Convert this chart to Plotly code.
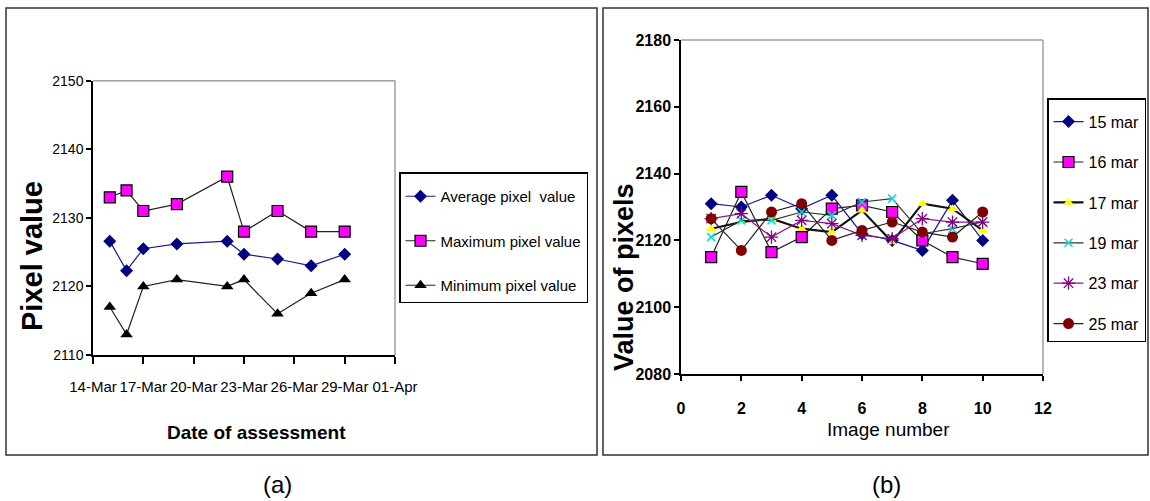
import plotly.graph_objects as go

# ---- Panel (a): pixel statistics per assessment date ----
assessment_dates = ["2013-03-15", "2013-03-16", "2013-03-17", "2013-03-19", "2013-03-22",
                    "2013-03-23", "2013-03-25", "2013-03-27", "2013-03-29"]
avg_pixel = [2126.6, 2122.3, 2125.5, 2126.2, 2126.6, 2124.7, 2124.0, 2123.0, 2124.7]
max_pixel = [2133, 2134, 2131, 2132, 2136, 2128, 2131, 2128, 2128]
min_pixel = [2117, 2113, 2120, 2121, 2120, 2121, 2116, 2119, 2121]

# ---- Panel (b): pixel values per image, one series per day ----
image_number = [1, 2, 3, 4, 5, 6, 7, 8, 9, 10]
mar15 = [2131, 2130, 2133.5, 2129.5, 2133.5, 2122, 2120, 2117, 2132, 2120]
mar16 = [2115, 2134.5, 2116.5, 2121, 2129.5, 2130.5, 2128.5, 2120, 2115, 2113]
mar17 = [2123.5, 2125.5, 2126.5, 2123.5, 2122.5, 2129, 2119.5, 2131, 2129.5, 2123]
mar19 = [2121, 2126, 2126, 2128.5, 2127.5, 2131.5, 2132.5, 2122, 2123.5, 2125.5]
mar23 = [2126.5, 2128, 2121, 2126, 2125, 2121.5, 2120.5, 2126.5, 2125.5, 2125.5]
mar25 = [2126.5, 2117, 2128.5, 2131, 2120, 2123, 2125.5, 2122.5, 2121, 2128.5]

W, H = 1150, 501
FONT = "Liberation Sans, Arial, sans-serif"


def px(x):
    return x / W


def py(y):
    return 1 - y / H


fig = go.Figure()

# panel (a) series
fig.add_trace(go.Scatter(
    x=assessment_dates, y=avg_pixel, name="Average pixel  value", legendgroup="a1",
    mode="lines+markers", line=dict(color="#1a1a8c", width=1.2),
    marker=dict(symbol="diamond", size=10, color="#000080"),
    xaxis="x", yaxis="y", legend="legend"))
fig.add_trace(go.Scatter(
    x=assessment_dates, y=max_pixel, name="Maximum pixel value", legendgroup="a2",
    mode="lines+markers", line=dict(color="#222222", width=1.2),
    marker=dict(symbol="square", size=11, color="#ff00ff", line=dict(color="black", width=1.2)),
    xaxis="x", yaxis="y", legend="legend"))
fig.add_trace(go.Scatter(
    x=assessment_dates, y=min_pixel, name="Minimum pixel value", legendgroup="a3",
    mode="lines+markers", line=dict(color="#222222", width=1.2),
    marker=dict(symbol="triangle-up", size=11, color="black"),
    xaxis="x", yaxis="y", legend="legend"))

# panel (b) series
series_b = [
    ("15 mar", mar15, dict(color="#1a1a8c", width=1.2),
     dict(symbol="diamond", size=10, color="#000080")),
    ("16 mar", mar16, dict(color="#222222", width=1.2),
     dict(symbol="square", size=11, color="#ff00ff", line=dict(color="black", width=1.2))),
    ("17 mar", mar17, dict(color="#111111", width=2.2),
     dict(symbol="triangle-up", size=9, color="#ffff00")),
    ("19 mar", mar19, dict(color="#333333", width=1.2),
     dict(symbol="x-thin-open", size=8, color="#00e0e0", line=dict(color="#00e0e0", width=1.6))),
    ("23 mar", mar23, dict(color="#8b1a8b", width=1.2),
     dict(symbol="asterisk-open", size=11, color="#800080", line=dict(color="#800080", width=1.3))),
    ("25 mar", mar25, dict(color="#222222", width=1.2),
     dict(symbol="circle", size=11, color="#800000")),
]
for i, (name, vals, ln, mk) in enumerate(series_b):
    fig.add_trace(go.Scatter(
        x=image_number, y=vals, name=name, legendgroup="b%d" % i,
        mode="lines+markers", line=ln, marker=mk,
        xaxis="x2", yaxis="y2", legend="legend2"))

axis_common = dict(showgrid=False, zeroline=False, showline=True, linecolor="black",
                   linewidth=1.5, ticks="outside", tickcolor="black", tickwidth=1.5,
                   automargin=False)

fig.update_layout(
    template="none",
    width=W, height=H, margin=dict(l=0, r=0, t=0, b=0, autoexpand=False),
    paper_bgcolor="white", plot_bgcolor="white",
    xaxis=dict(domain=[px(93), px(395)], anchor="y", type="date",
               range=["2013-03-14", "2013-04-01"], tick0="2013-03-14",
               dtick=3 * 86400000, tickformat="%d-%b", ticklen=7,
               ticklabelstandoff=10,
               tickfont=dict(family=FONT, size=15, color="black"), **axis_common),
    yaxis=dict(domain=[py(355), py(80.7)], anchor="x", range=[2110, 2150],
               dtick=10, ticklen=5,
               tickfont=dict(family=FONT, size=14, color="black"), **axis_common),
    xaxis2=dict(domain=[px(681), px(1043)], anchor="y2", range=[0, 12], dtick=2,
                ticklen=5, ticklabelstandoff=14,
                tickfont=dict(family=FONT, size=16, color="black", weight="bold"),
                **axis_common),
    yaxis2=dict(domain=[py(374), py(40)], anchor="x2", range=[2080, 2180], dtick=20,
                ticklen=5,
                tickfont=dict(family=FONT, size=16, color="black", weight="bold"),
                **axis_common),
    legend=dict(x=px(399), y=py(172), xanchor="left", yanchor="top",
                bgcolor="white", bordercolor="black", borderwidth=1.5,
                font=dict(family=FONT, size=15, color="black"),
                title=dict(text=" ", font=dict(size=5)),
                tracegroupgap=22, traceorder="grouped"),
    legend2=dict(x=px(1047), y=py(98), xanchor="left", yanchor="top",
                 bgcolor="white", bordercolor="black", borderwidth=1.5,
                 font=dict(family=FONT, size=16, color="black"),
                 title=dict(text=" ", font=dict(size=4)),
                 tracegroupgap=16.6, traceorder="grouped"),
    showlegend=True,
)

# panel frames and the light top/right edges of each plot area
shapes = [
    dict(type="rect", xref="paper", yref="paper", x0=px(6), x1=px(597), y0=py(455), y1=py(8),
         line=dict(color="#333333", width=1.5)),
    dict(type="rect", xref="paper", yref="paper", x0=px(603), x1=px(1148), y0=py(455), y1=py(8),
         line=dict(color="#333333", width=1.5)),
]
for xa, ya in (("x", "y"), ("x2", "y2")):
    shapes.append(dict(type="line", xref=xa + " domain", yref=ya + " domain",
                       x0=0, x1=1, y0=1, y1=1, line=dict(color="#a0a0a0", width=1.5)))
    shapes.append(dict(type="line", xref=xa + " domain", yref=ya + " domain",
                       x0=1, x1=1, y0=0, y1=1, line=dict(color="#a0a0a0", width=1.5)))
fig.update_layout(shapes=shapes)

annotations = [
    dict(text="<b>Pixel value</b>", x=px(32), y=py(256), textangle=-90,
         font=dict(family=FONT, size=29, color="black")),
    dict(text="<b>Date of assessment</b>", x=px(256), y=py(432),
         font=dict(family=FONT, size=19, color="black")),
    dict(text="(a)", x=px(277), y=py(484), font=dict(family=FONT, size=24, color="black")),
    dict(text="<b>Value of pixels</b>", x=px(624), y=py(277), textangle=-90,
         font=dict(family=FONT, size=27, color="black")),
    dict(text="Image number", x=px(888), y=py(429),
         font=dict(family=FONT, size=19, color="black")),
    dict(text="(b)", x=px(886), y=py(484), font=dict(family=FONT, size=24, color="black")),
]
for a in annotations:
    a.update(xref="paper", yref="paper", showarrow=False, xanchor="center", yanchor="middle")
fig.update_layout(annotations=annotations)

fig.write_html("out.html")
